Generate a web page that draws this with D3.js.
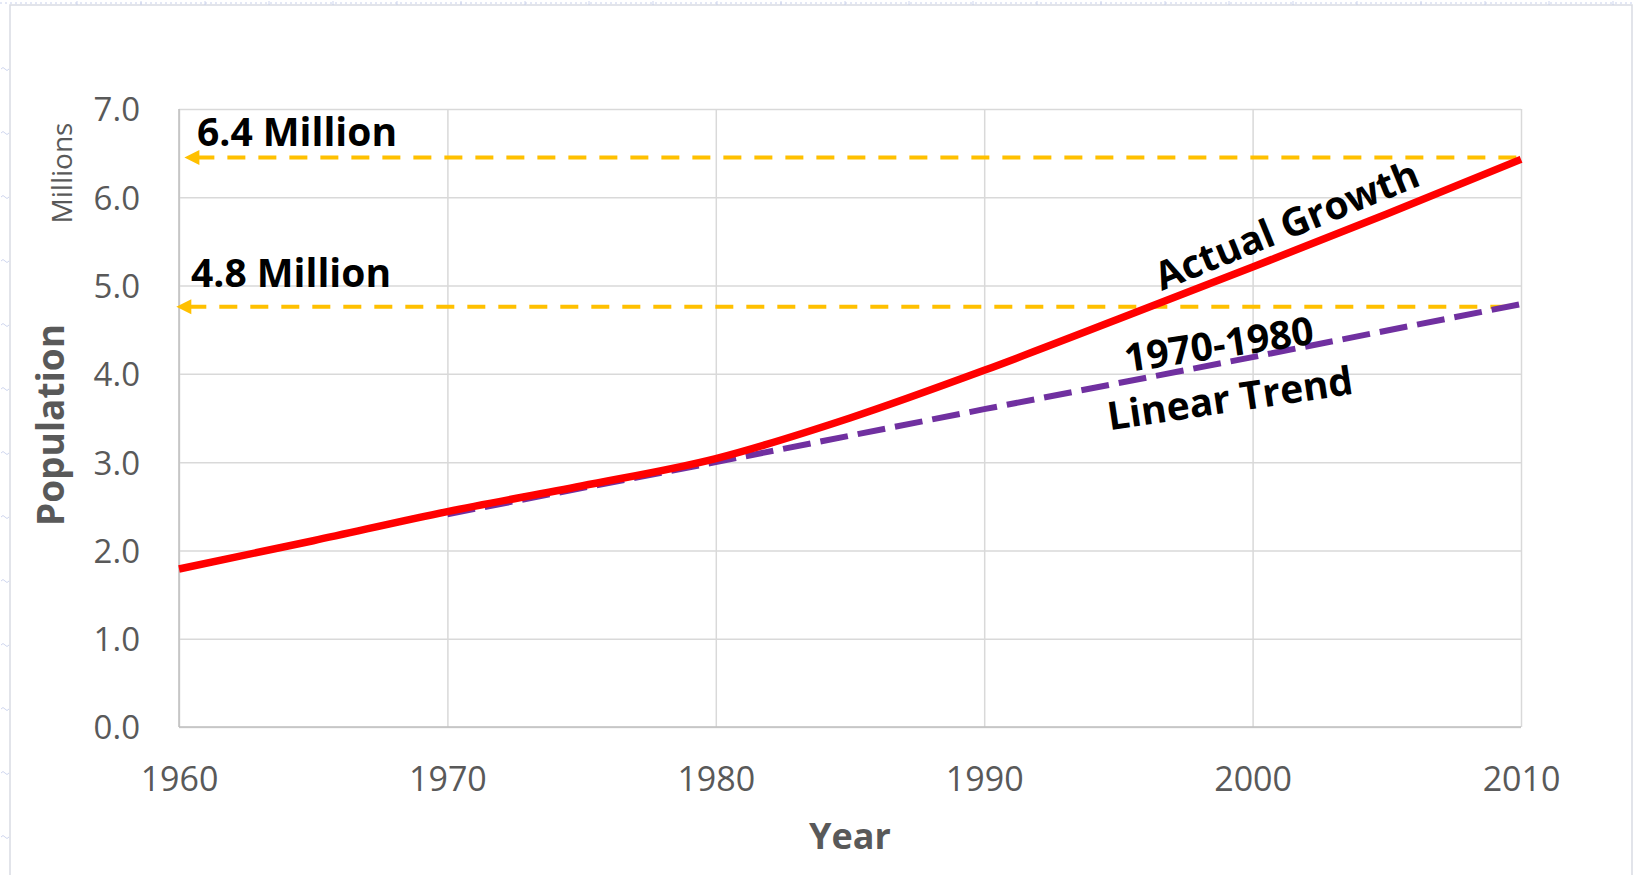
<!DOCTYPE html>
<html>
<head>
<meta charset="utf-8">
<script src="https://cdn.jsdelivr.net/npm/d3@7"></script>
<style>
  body { margin: 0; background: #fff; }
  svg { display: block; }
</style>
</head>
<body>
<script>
// data (population in millions)
const years = [1960, 1965, 1970, 1975, 1980, 1985, 1990, 1995, 2000, 2005, 2010];
const actual = [1.79, 2.11, 2.44, 2.73, 3.04, 3.50, 4.04, 4.62, 5.21, 5.81, 6.43];
const trendYears = [1970, 1980, 1990, 2000, 2010];
const trend = [2.41, 3.00, 3.60, 4.19, 4.79];
const xTicks = [1960, 1970, 1980, 1990, 2000, 2010];
const yTicks = [0, 1, 2, 3, 4, 5, 6, 7];
const markerValues = [6.45, 4.76];
const markerStart = [1960.2, 1959.9];
const markerLabels = ['6.4 Million', '4.8 Million'];

const width = 1633, height = 875;
const plotL = 179, plotR = 1521, plotT = 109, plotB = 727;
const font = '"Open Sans", "Noto Sans", sans-serif';
const gray = '#595959';

const svg = d3.select('body').append('svg')
  .attr('width', width)
  .attr('height', height);

const x = d3.scaleLinear().domain([1960, 2010]).range([plotL, plotR]);
const y = d3.scaleLinear().domain([0, 7]).range([plotB, plotT]);

// sheet artefacts: outer frame and faint page marks
svg.append('path')
  .attr('d', `M10,${height} V5 H${width - 1} V${height}`)
  .attr('fill', 'none')
  .attr('stroke', '#d9dce3')
  .attr('stroke-width', 1.5);
svg.append('line')
  .attr('x1', 0).attr('x2', width).attr('y1', 3).attr('y2', 3)
  .attr('stroke', '#c8d0ec').attr('stroke-width', 1)
  .attr('stroke-dasharray', '2,3');
d3.range(68, height, 64).forEach(v => {
  svg.append('path')
    .attr('d', `M1,${v + 1} q2,-3 4,0 t4,0`)
    .attr('fill', 'none').attr('stroke', '#c3cbea').attr('stroke-width', 0.8);
});
d3.range(77, width, 64).forEach(v => {
  svg.append('line')
    .attr('x1', v).attr('x2', v).attr('y1', 1).attr('y2', 5)
    .attr('stroke', '#c3cbea').attr('stroke-width', 0.8);
});

// gridlines
svg.append('g')
  .attr('transform', `translate(${plotL},0)`)
  .call(d3.axisLeft(y).tickValues(yTicks).tickSize(-(plotR - plotL)).tickFormat(''))
  .call(g => g.select('.domain').remove())
  .call(g => g.selectAll('line').attr('stroke', '#d9d9d9').attr('stroke-width', 1.5));

svg.append('g')
  .attr('transform', `translate(0,${plotB})`)
  .call(d3.axisBottom(x).tickValues(xTicks).tickSize(-(plotB - plotT)).tickFormat(''))
  .call(g => g.select('.domain').remove())
  .call(g => g.selectAll('line').attr('stroke', '#d9d9d9').attr('stroke-width', 1.5));

// axis lines
svg.append('line')
  .attr('x1', plotL).attr('x2', plotL).attr('y1', plotT).attr('y2', plotB)
  .attr('stroke', '#bfbfbf').attr('stroke-width', 1.5);
svg.append('line')
  .attr('x1', plotL).attr('x2', plotR).attr('y1', plotB).attr('y2', plotB)
  .attr('stroke', '#bfbfbf').attr('stroke-width', 1.5);

// tick labels
svg.append('g')
  .attr('transform', `translate(${plotL - 39},0)`)
  .call(d3.axisLeft(y).tickValues(yTicks).tickSize(0).tickPadding(0).tickFormat(d3.format('.1f')))
  .call(g => g.select('.domain').remove())
  .call(g => g.selectAll('text')
    .attr('fill', gray).attr('dy', '0.36em')
    .style('font-family', font).style('font-size', '33px'));

svg.append('g')
  .attr('transform', `translate(0,${plotB})`)
  .call(d3.axisBottom(x).tickValues(xTicks).tickSize(0).tickFormat(d3.format('d')))
  .call(g => g.select('.domain').remove())
  .call(g => g.selectAll('text')
    .attr('fill', gray).attr('y', 64).attr('dy', 0)
    .style('font-family', font).style('font-size', '34px'));

// axis titles
svg.append('text')
  .attr('x', 850).attr('y', 849)
  .attr('text-anchor', 'middle')
  .attr('fill', gray)
  .style('font-family', font).style('font-size', '36px').style('font-weight', 'bold')
  .text('Year');

svg.append('text')
  .attr('transform', 'translate(64,425) rotate(-90)')
  .attr('text-anchor', 'middle')
  .attr('fill', gray)
  .style('font-family', font).style('font-size', '37px').style('font-weight', 'bold')
  .text('Population');

svg.append('text')
  .attr('transform', 'translate(72,173) rotate(-90)')
  .attr('text-anchor', 'middle')
  .attr('fill', gray)
  .style('font-family', font).style('font-size', '28px')
  .text('Millions');

// orange reference lines with arrowheads
markerValues.forEach((v, i) => {
  svg.append('line')
    .attr('x1', x(markerStart[i]) + 12).attr('x2', x(2010))
    .attr('y1', y(v)).attr('y2', y(v))
    .attr('stroke', '#ffc000').attr('stroke-width', 4)
    .attr('stroke-dasharray', '18,13');
  svg.append('path')
    .attr('d', `M${x(markerStart[i])},${y(v)} l15,-7.5 v15 Z`)
    .attr('fill', '#ffc000');
});

// series
const line = d3.line().x(d => x(d[0])).y(d => y(d[1]));

svg.append('path')
  .datum(trendYears.map((yr, i) => [yr, trend[i]]))
  .attr('d', line)
  .attr('fill', 'none')
  .attr('stroke', '#7030a0')
  .attr('stroke-width', 6)
  .attr('stroke-dasharray', '28,10');

svg.append('path')
  .datum(years.map((yr, i) => [yr, actual[i]]))
  .attr('d', line.curve(d3.curveMonotoneX))
  .attr('fill', 'none')
  .attr('stroke', '#ff0000')
  .attr('stroke-width', 7.5)
  .attr('stroke-linejoin', 'round');

// annotations
const bold = sel => sel
  .attr('fill', '#000')
  .style('font-family', font).style('font-size', '39px').style('font-weight', 'bold');

svg.append('text').attr('x', 197).attr('y', 146).call(bold).text(markerLabels[0]);
svg.append('text').attr('x', 191).attr('y', 287).call(bold).text(markerLabels[1]);

svg.append('text')
  .attr('transform', 'translate(1292,238) rotate(-22.2)')
  .attr('text-anchor', 'middle').call(bold).text('Actual Growth');
svg.append('text')
  .attr('transform', 'translate(1221,358) rotate(-8.6)')
  .attr('text-anchor', 'middle').call(bold).text('1970-1980');
svg.append('text')
  .attr('transform', 'translate(1232,412) rotate(-8.5)')
  .attr('text-anchor', 'middle').call(bold).text('Linear Trend');
</script>
</body>
</html>
